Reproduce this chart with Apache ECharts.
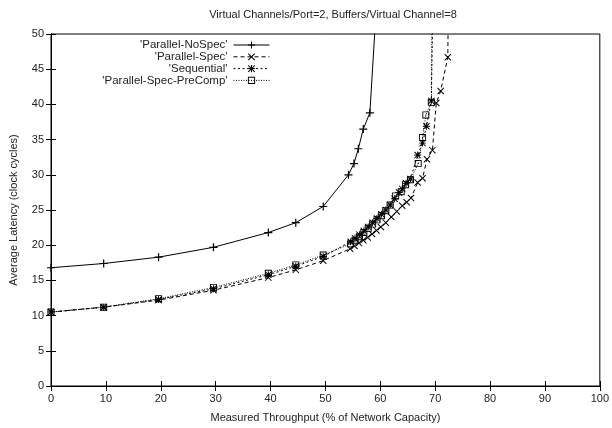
<!DOCTYPE html>
<html><head><meta charset="utf-8">
<script src="https://cdn.jsdelivr.net/npm/echarts@6/dist/echarts.min.js"></script>
<style>html,body{margin:0;padding:0;background:#fff}#c{width:612px;height:428px}</style>
</head><body><div id="c"></div>
<script>
// ---- data ----
const seriesNames = ["'Parallel-NoSpec'", "'Parallel-Spec'", "'Sequential'", "'Parallel-Spec-PreComp'"];
const xTicks = [0,10,20,30,40,50,60,70,80,90,100];
const yTicks = [0,5,10,15,20,25,30,35,40,45,50];

const noSpecX = [0,9.6,19.6,29.6,39.6,44.6,49.6,54.2,55.2,56.0,56.9,58.1,59.6];
const noSpecY = [16.8,17.4,18.3,19.7,21.8,23.2,25.5,30.0,31.6,33.7,36.5,38.8,58];

const specX = [0,9.6,19.6,29.6,39.6,44.6,49.6,54.5,55.3,56.1,56.9,57.7,58.5,59.3,60.1,61.0,62.0,63.0,64.0,64.8,65.6,66.8,67.7,68.5,69.5,70.2,71.0,72.3,72.6];
const specY = [10.5,11.2,12.2,13.6,15.4,16.5,17.8,19.5,19.9,20.3,20.7,21.1,21.6,22.1,22.6,23.2,24.0,24.8,25.6,26.1,26.7,28.9,29.5,32.2,33.5,40.2,41.9,46.7,70];

const seqX = [0,9.6,19.6,29.6,39.6,44.6,49.6,54.6,55.4,56.2,57.0,57.8,58.6,59.4,60.2,61.0,61.8,62.6,63.4,64.0,64.7,65.5,66.8,67.7,68.4,69.3,69.9];
const seqY = [10.5,11.2,12.3,13.8,15.8,17.0,18.4,20.5,21.0,21.5,22.0,22.6,23.2,23.8,24.4,25.0,25.7,26.6,27.5,28.0,28.8,29.4,32.8,34.5,36.9,40.5,70];

const preX = [0,9.6,19.6,29.6,39.6,44.6,49.6,54.6,55.4,56.2,57.0,57.8,58.6,59.4,60.2,61.0,61.8,62.8,63.8,64.6,65.5,66.9,67.7,68.3,69.3,69.6];
const preY = [10.5,11.2,12.4,14.0,16.0,17.2,18.6,20.2,20.7,21.2,21.8,22.4,23.0,23.6,24.2,24.9,25.7,27.0,27.6,28.6,29.3,31.6,35.3,38.5,40.3,70];

// ---- build ----
function pairs(xs, ys){ return xs.map((x,i)=>[x, ys[i]]); }
const PLUS = 'path://M4.25,0H5.75V10H4.25Z M0,4.25H10V5.75H0Z';
const CROSS = 'path://M0,1L1,0L10,9L9,10Z M9,0L10,1L1,10L0,9Z';
const STAR = 'path://M4.3,0H5.7V10H4.3Z M0,4.3H10V5.7H0Z M0,1L1,0L10,9L9,10Z M9,0L10,1L1,10L0,9Z';
const SQUARE = 'path://M0,0H10V10H0Z M1.3,1.3V8.7H8.7V1.3Z M4.3,4.3H5.7V5.7H4.3Z';

const FONT = 'Liberation Sans';
const TXT = '#222';

const defs = [
  {name: seriesNames[0], data: pairs(noSpecX, noSpecY), symbol: PLUS, size: 8, type: 'solid'},
  {name: seriesNames[1], data: pairs(specX, specY), symbol: CROSS, size: 7, type: [4,3]},
  {name: seriesNames[2], data: pairs(seqX, seqY), symbol: STAR, size: 7, type: [2,2.5]},
  {name: seriesNames[3], data: pairs(preX, preY), symbol: SQUARE, size: 7, type: [1,1.5]}
];

const series = defs.map(d => ({
  name: d.name, type: 'line', data: d.data,
  symbol: d.symbol, symbolSize: d.size, showAllSymbol: true,
  lineStyle: {color: '#000', width: 1, type: d.type},
  itemStyle: {color: '#000', borderWidth: 0},
  clip: true, animation: false, z: 3
}));

const legends = defs.map((d, i) => ({
  data: [d.name], orient: 'vertical', align: 'right',
  right: 342, top: 39 + i * 11.8, padding: 0,
  itemWidth: 36, itemHeight: 9, itemGap: 0,
  lineStyle: {width: 1},
  itemStyle: {borderWidth: 0},
  textStyle: {fontFamily: FONT, fontSize: 11.5, color: TXT, padding: [0, 1, 0, 0]},
  selectedMode: false
}));

const axisCommon = {
  axisLine: {show: true, lineStyle: {color: '#000', width: 1}},
  axisTick: {show: true, inside: true, length: 5, lineStyle: {color: '#000'}},
  splitLine: {show: false}
};

const chart = echarts.init(document.getElementById('c'), null, {renderer: 'canvas'});
chart.setOption({
  animation: false,
  backgroundColor: '#fff',
  title: {
    text: 'Virtual Channels/Port=2, Buffers/Virtual Channel=8',
    left: 328, top: 4, textAlign: 'center',
    textStyle: {fontFamily: FONT, fontSize: 11, fontWeight: 'normal', color: TXT}
  },
  legend: legends,
  grid: {left: 51, right: 7, top: 34, bottom: 40, show: true, borderColor: '#000', borderWidth: 1},
  xAxis: [
    Object.assign({type: 'value', min: xTicks[0], max: xTicks[xTicks.length-1], interval: 10,
      name: 'Measured Throughput (% of Network Capacity)', nameLocation: 'middle', nameGap: 26,
      nameTextStyle: {fontFamily: FONT, fontSize: 11, color: TXT},
      axisLabel: {fontFamily: FONT, fontSize: 11, color: TXT, margin: 7}}, axisCommon),
    Object.assign({type: 'value', position: 'top', min: xTicks[0], max: xTicks[xTicks.length-1], interval: 10,
      axisLabel: {show: false}}, axisCommon)
  ],
  yAxis: [
    Object.assign({type: 'value', min: yTicks[0], max: yTicks[yTicks.length-1], interval: 5,
      name: 'Average Latency (clock cycles)', nameLocation: 'middle', nameGap: 32,
      nameTextStyle: {fontFamily: FONT, fontSize: 11, color: TXT},
      axisLabel: {fontFamily: FONT, fontSize: 11, color: TXT, margin: 7}}, axisCommon),
    Object.assign({type: 'value', position: 'right', min: yTicks[0], max: yTicks[yTicks.length-1], interval: 5,
      axisLabel: {show: false}}, axisCommon)
  ],
  series: series
});
</script></body></html>
